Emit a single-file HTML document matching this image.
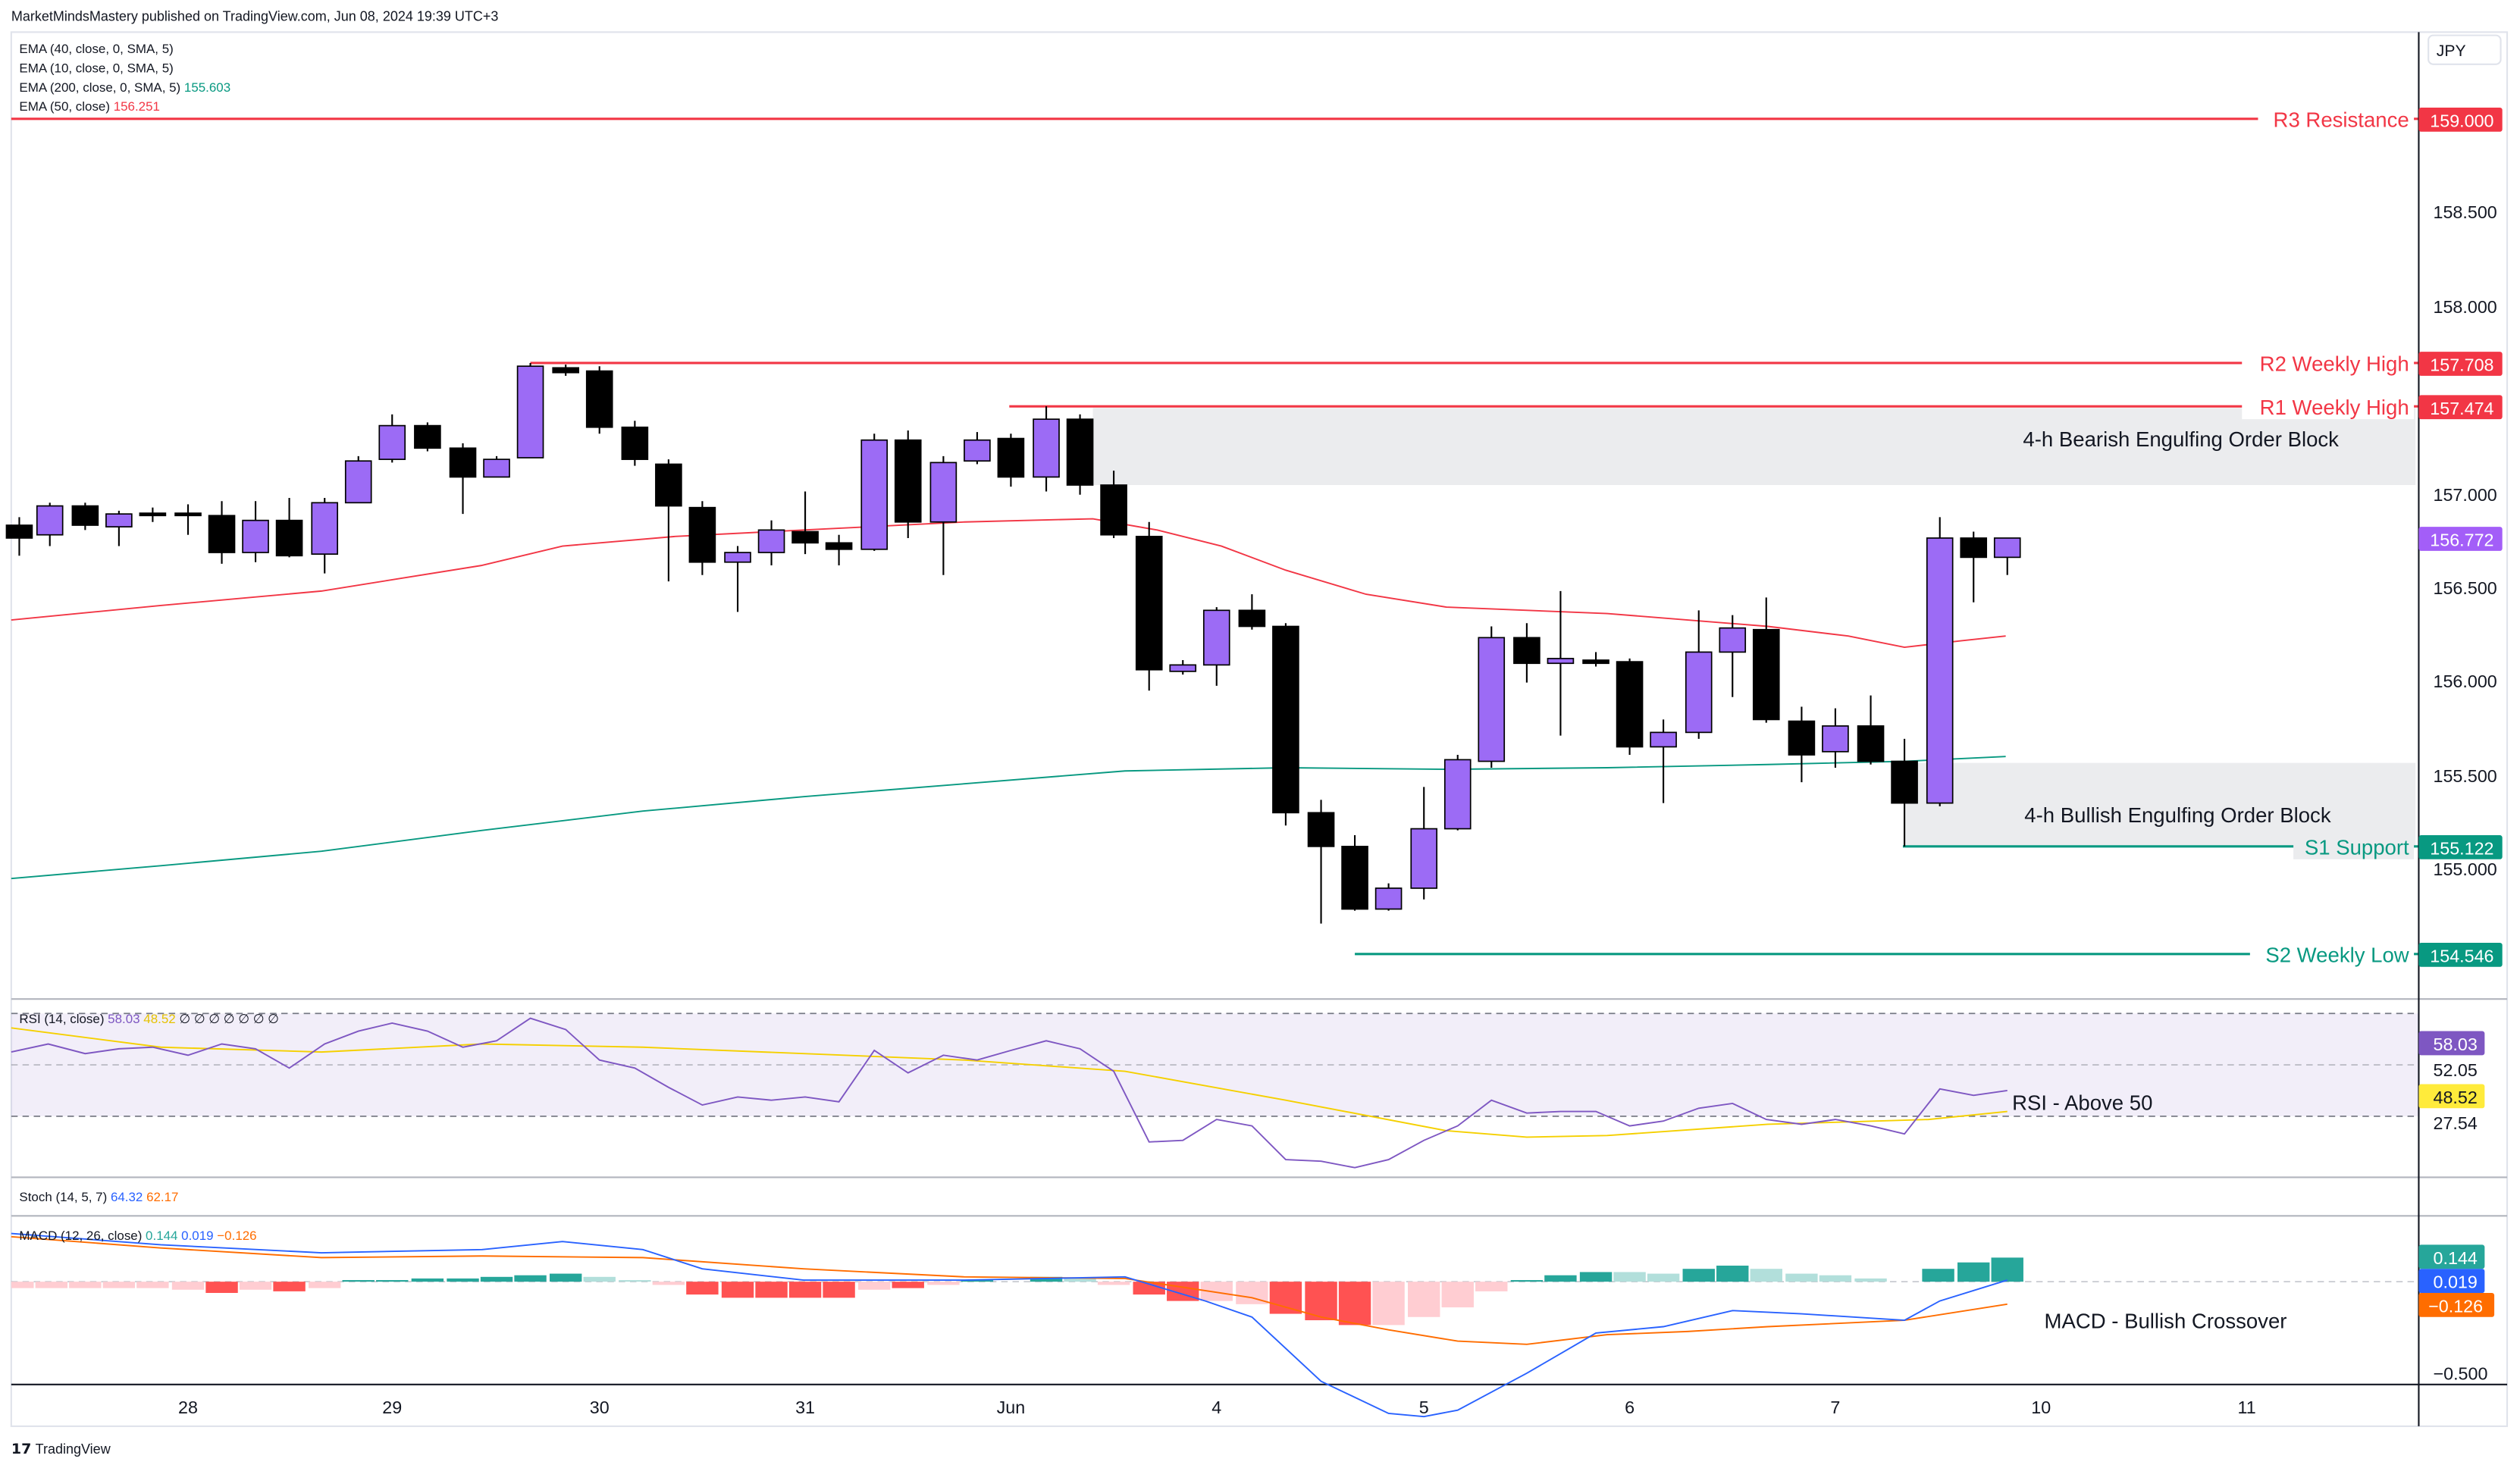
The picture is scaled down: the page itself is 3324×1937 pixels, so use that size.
<!DOCTYPE html>
<html><head><meta charset="utf-8"><style>html,body{margin:0;padding:0;background:#fff}svg{display:block}text{font-family:"Liberation Sans","DejaVu Sans",sans-serif}</style></head><body>
<svg width="3324" height="1937" viewBox="0 0 1568 914" preserveAspectRatio="none" xmlns="http://www.w3.org/2000/svg">
<rect width="1568" height="914" fill="#fff"/>
<text x="7" y="13" font-size="8.5" fill="#131722">MarketMindsMastery published on TradingView.com, Jun 08, 2024 19:39 UTC+3</text>
<rect x="7" y="20" width="1553" height="868" fill="none" stroke="#e0e3eb" stroke-width="1"/>
<!-- zones -->
<rect x="680" y="254" width="823" height="48" fill="#ebecee"/>
<rect x="1185" y="475" width="318" height="52" fill="#ebecee"/>
<!-- EMAs -->
<polyline fill="none" stroke="#f23645" stroke-width="0.9" points="7,386 100,377 200,368 300,352 350,340 420,334 500,330 600,325 680,323 720,330 760,340 800,355 850,370 900,378 1000,382 1100,390 1150,396 1185,403 1220,399 1248,396"/>
<polyline fill="none" stroke="#089981" stroke-width="0.9" points="7,547 100,539 200,530 300,517 400,505 500,496 600,488 700,480 800,478 900,479 1000,478 1100,476 1185,474 1248,471"/>
<!-- levels -->
<line x1="7" y1="74" x2="1505" y2="74" stroke="#f23645" stroke-width="1.5"/>
<line x1="330" y1="226" x2="1505" y2="226" stroke="#f23645" stroke-width="1.5"/>
<line x1="628" y1="253" x2="1505" y2="253" stroke="#f23645" stroke-width="1.5"/>
<line x1="1184" y1="527" x2="1505" y2="527" stroke="#089981" stroke-width="1.5"/>
<line x1="843" y1="594" x2="1505" y2="594" stroke="#089981" stroke-width="1.5"/>
<g font-size="13" text-anchor="end">
<rect x="1405" y="66" width="97" height="16" fill="#fff"/><text x="1499" y="79" fill="#f23645">R3 Resistance</text>
<rect x="1395" y="218" width="107" height="16" fill="#fff"/><text x="1499" y="231" fill="#f23645">R2 Weekly High</text>
<rect x="1395" y="245" width="107" height="16" fill="#fff"/><text x="1499" y="258" fill="#f23645">R1 Weekly High</text>
<rect x="1427" y="519" width="75" height="16" fill="#ebecee"/><text x="1499" y="532" fill="#089981">S1 Support</text>
<rect x="1400" y="586" width="102" height="16" fill="#fff"/><text x="1499" y="599" fill="#089981">S2 Weekly Low</text>
</g>
<g font-size="13" text-anchor="middle" fill="#131722">
<text x="1357" y="278">4-h Bearish Engulfing Order Block</text>
<text x="1355" y="512">4-h Bullish Engulfing Order Block</text>
</g>
<!-- candles -->
<g stroke="#000" stroke-width="1">
<line x1="12" y1="322" x2="12" y2="346"/><line x1="31" y1="313" x2="31" y2="340"/><line x1="53" y1="313" x2="53" y2="330"/><line x1="74" y1="318" x2="74" y2="340"/><line x1="95" y1="316" x2="95" y2="325"/><line x1="117" y1="314" x2="117" y2="333"/><line x1="138" y1="312" x2="138" y2="351"/><line x1="159" y1="312" x2="159" y2="350"/><line x1="180" y1="310" x2="180" y2="347"/><line x1="202" y1="310" x2="202" y2="357"/><line x1="223" y1="284" x2="223" y2="313"/><line x1="244" y1="258" x2="244" y2="288"/><line x1="266" y1="263" x2="266" y2="281"/><line x1="288" y1="276" x2="288" y2="320"/><line x1="309" y1="284" x2="309" y2="297"/><line x1="330" y1="226" x2="330" y2="285"/><line x1="352" y1="227" x2="352" y2="234"/><line x1="373" y1="228" x2="373" y2="270"/><line x1="395" y1="262" x2="395" y2="290"/><line x1="416" y1="286" x2="416" y2="362"/><line x1="437" y1="312" x2="437" y2="358"/><line x1="459" y1="340" x2="459" y2="381"/><line x1="480" y1="324" x2="480" y2="352"/><line x1="501" y1="306" x2="501" y2="345"/><line x1="522" y1="333" x2="522" y2="352"/><line x1="544" y1="270" x2="544" y2="343"/><line x1="565" y1="268" x2="565" y2="335"/><line x1="587" y1="284" x2="587" y2="358"/><line x1="608" y1="269" x2="608" y2="289"/><line x1="629" y1="270" x2="629" y2="303"/><line x1="651" y1="253" x2="651" y2="306"/><line x1="672" y1="258" x2="672" y2="308"/><line x1="693" y1="293" x2="693" y2="335"/><line x1="715" y1="325" x2="715" y2="430"/><line x1="736" y1="411" x2="736" y2="420"/><line x1="757" y1="378" x2="757" y2="427"/><line x1="779" y1="370" x2="779" y2="392"/><line x1="800" y1="388" x2="800" y2="514"/><line x1="822" y1="498" x2="822" y2="575"/><line x1="843" y1="520" x2="843" y2="567"/><line x1="864" y1="550" x2="864" y2="567"/><line x1="886" y1="490" x2="886" y2="560"/><line x1="907" y1="470" x2="907" y2="517"/><line x1="928" y1="390" x2="928" y2="478"/><line x1="950" y1="388" x2="950" y2="425"/><line x1="971" y1="368" x2="971" y2="458"/><line x1="993" y1="406" x2="993" y2="415"/><line x1="1014" y1="410" x2="1014" y2="470"/><line x1="1035" y1="448" x2="1035" y2="500"/><line x1="1057" y1="380" x2="1057" y2="460"/><line x1="1078" y1="383" x2="1078" y2="434"/><line x1="1099" y1="372" x2="1099" y2="450"/><line x1="1121" y1="440" x2="1121" y2="487"/><line x1="1142" y1="441" x2="1142" y2="478"/><line x1="1164" y1="433" x2="1164" y2="476"/><line x1="1185" y1="460" x2="1185" y2="527"/><line x1="1207" y1="322" x2="1207" y2="502"/><line x1="1228" y1="331" x2="1228" y2="375"/><line x1="1249" y1="335" x2="1249" y2="358"/>
</g>
<g stroke="#000" stroke-width="0.8">
<rect x="4" y="327" width="16" height="8" fill="#000"/>
<rect x="23" y="315" width="16" height="18" fill="#9c6bf5"/>
<rect x="45" y="315" width="16" height="12" fill="#000"/>
<rect x="66" y="320" width="16" height="8" fill="#9c6bf5"/>
<rect x="87" y="319.5" width="16" height="1.5" fill="#000"/>
<rect x="109" y="319.5" width="16" height="1.5" fill="#000"/>
<rect x="130" y="321" width="16" height="23" fill="#000"/>
<rect x="151" y="324" width="16" height="20" fill="#9c6bf5"/>
<rect x="172" y="324" width="16" height="22" fill="#000"/>
<rect x="194" y="313" width="16" height="32" fill="#9c6bf5"/>
<rect x="215" y="287" width="16" height="26" fill="#9c6bf5"/>
<rect x="236" y="265" width="16" height="21" fill="#9c6bf5"/>
<rect x="258" y="265" width="16" height="14" fill="#000"/>
<rect x="280" y="279" width="16" height="18" fill="#000"/>
<rect x="301" y="286" width="16" height="11" fill="#9c6bf5"/>
<rect x="322" y="228" width="16" height="57" fill="#9c6bf5"/>
<rect x="344" y="229" width="16" height="3" fill="#000"/>
<rect x="365" y="231" width="16" height="35" fill="#000"/>
<rect x="387" y="266" width="16" height="20" fill="#000"/>
<rect x="408" y="289" width="16" height="26" fill="#000"/>
<rect x="429" y="316" width="16" height="34" fill="#000"/>
<rect x="451" y="344" width="16" height="6" fill="#9c6bf5"/>
<rect x="472" y="330" width="16" height="14" fill="#9c6bf5"/>
<rect x="493" y="331" width="16" height="7" fill="#000"/>
<rect x="514" y="338" width="16" height="4" fill="#000"/>
<rect x="536" y="274" width="16" height="68" fill="#9c6bf5"/>
<rect x="557" y="274" width="16" height="51" fill="#000"/>
<rect x="579" y="288" width="16" height="37" fill="#9c6bf5"/>
<rect x="600" y="274" width="16" height="13" fill="#9c6bf5"/>
<rect x="621" y="273" width="16" height="24" fill="#000"/>
<rect x="643" y="261" width="16" height="36" fill="#9c6bf5"/>
<rect x="664" y="261" width="16" height="41" fill="#000"/>
<rect x="685" y="302" width="16" height="31" fill="#000"/>
<rect x="707" y="334" width="16" height="83" fill="#000"/>
<rect x="728" y="414" width="16" height="4" fill="#9c6bf5"/>
<rect x="749" y="380" width="16" height="34" fill="#9c6bf5"/>
<rect x="771" y="380" width="16" height="10" fill="#000"/>
<rect x="792" y="390" width="16" height="116" fill="#000"/>
<rect x="814" y="506" width="16" height="21" fill="#000"/>
<rect x="835" y="527" width="16" height="39" fill="#000"/>
<rect x="856" y="553" width="16" height="13" fill="#9c6bf5"/>
<rect x="878" y="516" width="16" height="37" fill="#9c6bf5"/>
<rect x="899" y="473" width="16" height="43" fill="#9c6bf5"/>
<rect x="920" y="397" width="16" height="77" fill="#9c6bf5"/>
<rect x="942" y="397" width="16" height="16" fill="#000"/>
<rect x="963" y="410" width="16" height="3" fill="#9c6bf5"/>
<rect x="985" y="411" width="16" height="2" fill="#000"/>
<rect x="1006" y="412" width="16" height="53" fill="#000"/>
<rect x="1027" y="456" width="16" height="9" fill="#9c6bf5"/>
<rect x="1049" y="406" width="16" height="50" fill="#9c6bf5"/>
<rect x="1070" y="391" width="16" height="15" fill="#9c6bf5"/>
<rect x="1091" y="392" width="16" height="56" fill="#000"/>
<rect x="1113" y="449" width="16" height="21" fill="#000"/>
<rect x="1134" y="452" width="16" height="16" fill="#9c6bf5"/>
<rect x="1156" y="452" width="16" height="22" fill="#000"/>
<rect x="1177" y="474" width="16" height="26" fill="#000"/>
<rect x="1199" y="335" width="16" height="165" fill="#9c6bf5"/>
<rect x="1220" y="335" width="16" height="12" fill="#000"/>
<rect x="1241" y="335" width="16" height="12" fill="#9c6bf5"/>
</g>
<!-- legend -->
<g font-size="8" fill="#131722">
<text x="12" y="33">EMA (40, close, 0, SMA, 5)</text>
<text x="12" y="45">EMA (10, close, 0, SMA, 5)</text>
<text x="12" y="57">EMA (200, close, 0, SMA, 5) <tspan fill="#089981">155.603</tspan></text>
<text x="12" y="69">EMA (50, close) <tspan fill="#f23645">156.251</tspan></text>
</g>
<!-- pane separators -->
<line x1="7" y1="622" x2="1560" y2="622" stroke="#b2b5be" stroke-width="1"/>
<line x1="7" y1="733" x2="1560" y2="733" stroke="#b2b5be" stroke-width="1"/>
<line x1="7" y1="757" x2="1560" y2="757" stroke="#b2b5be" stroke-width="1"/>
<line x1="7" y1="862" x2="1560" y2="862" stroke="#131722" stroke-width="1"/>
<!-- RSI -->
<rect x="7" y="631" width="1498" height="64" fill="#7e57c2" fill-opacity="0.1"/>
<g stroke="#787b86" stroke-width="0.8" stroke-dasharray="4,3"><line x1="7" y1="631" x2="1505" y2="631"/><line x1="7" y1="663" x2="1505" y2="663" stroke-opacity="0.5"/><line x1="7" y1="695" x2="1505" y2="695"/></g>
<polyline fill="none" stroke="#f5d000" stroke-width="0.9" points="7,640 100,652 200,655 300,650 400,652 500,656 600,660 700,667 800,685 900,704 950,708 1000,707 1100,700 1200,697 1249,692"/>
<polyline fill="none" stroke="#7e57c2" stroke-width="0.9" points="7,655 30,650 53,656 74,653 95,652 117,657 138,650 159,653 180,665 202,650 223,642 244,637 266,642 288,652 309,648 330,634 352,641 373,660 395,665 416,677 437,688 459,683 480,685 501,683 522,686 544,654 565,668 587,657 608,660 629,654 651,648 672,653 693,667 715,711 736,710 757,697 779,701 800,722 822,723 843,727 864,722 886,710 907,701 928,685 950,693 971,692 993,692 1014,701 1035,698 1057,690 1078,687 1099,697 1121,700 1142,697 1164,701 1185,706 1207,678 1228,682 1249,679"/>
<text x="12" y="637" font-size="8" fill="#131722">RSI (14, close) <tspan fill="#7e57c2">58.03</tspan> <tspan fill="#e6c200">48.52</tspan> ∅ ∅ ∅ ∅ ∅ ∅ ∅</text>
<text x="1252" y="691" font-size="13" fill="#131722">RSI - Above 50</text>
<text x="12" y="748" font-size="8" fill="#131722">Stoch (14, 5, 7) <tspan fill="#2962ff">64.32</tspan> <tspan fill="#ff6d00">62.17</tspan></text>
<!-- MACD -->
<line x1="7" y1="798" x2="1505" y2="798" stroke="#b2b5be" stroke-width="0.6" stroke-dasharray="4,3"/>
<g>
<rect x="7" y="798" width="14" height="4" fill="#ffcdd2"/><rect x="22" y="798" width="20" height="4" fill="#ffcdd2"/><rect x="43" y="798" width="20" height="4" fill="#ffcdd2"/><rect x="64" y="798" width="20" height="4" fill="#ffcdd2"/><rect x="85" y="798" width="20" height="4" fill="#ffcdd2"/><rect x="107" y="798" width="20" height="5" fill="#ffcdd2"/><rect x="128" y="798" width="20" height="7" fill="#ff5252"/><rect x="149" y="798" width="20" height="5" fill="#ffcdd2"/><rect x="170" y="798" width="20" height="6" fill="#ff5252"/><rect x="192" y="798" width="20" height="4" fill="#ffcdd2"/><rect x="213" y="797" width="20" height="1" fill="#26a69a"/><rect x="234" y="797" width="20" height="1" fill="#26a69a"/><rect x="256" y="796" width="20" height="2" fill="#26a69a"/><rect x="278" y="796" width="20" height="2" fill="#26a69a"/><rect x="299" y="795" width="20" height="3" fill="#26a69a"/><rect x="320" y="794" width="20" height="4" fill="#26a69a"/><rect x="342" y="793" width="20" height="5" fill="#26a69a"/><rect x="363" y="795" width="20" height="3" fill="#b2dfdb"/><rect x="385" y="797" width="20" height="1" fill="#b2dfdb"/><rect x="406" y="798" width="20" height="2" fill="#ffcdd2"/><rect x="427" y="798" width="20" height="8" fill="#ff5252"/><rect x="449" y="798" width="20" height="10" fill="#ff5252"/><rect x="470" y="798" width="20" height="10" fill="#ff5252"/><rect x="491" y="798" width="20" height="10" fill="#ff5252"/><rect x="512" y="798" width="20" height="10" fill="#ff5252"/><rect x="534" y="798" width="20" height="5" fill="#ffcdd2"/><rect x="555" y="798" width="20" height="4" fill="#ff5252"/><rect x="577" y="798" width="20" height="2" fill="#ffcdd2"/><rect x="598" y="797" width="20" height="1" fill="#26a69a"/><rect x="641" y="795" width="20" height="3" fill="#26a69a"/><rect x="662" y="796" width="20" height="2" fill="#b2dfdb"/><rect x="683" y="798" width="20" height="2" fill="#ffcdd2"/><rect x="705" y="798" width="20" height="8" fill="#ff5252"/><rect x="726" y="798" width="20" height="12" fill="#ff5252"/><rect x="747" y="798" width="20" height="12" fill="#ffcdd2"/><rect x="769" y="798" width="20" height="14" fill="#ffcdd2"/><rect x="790" y="798" width="20" height="20" fill="#ff5252"/><rect x="812" y="798" width="20" height="24" fill="#ff5252"/><rect x="833" y="798" width="20" height="27" fill="#ff5252"/><rect x="854" y="798" width="20" height="27" fill="#ffcdd2"/><rect x="876" y="798" width="20" height="22" fill="#ffcdd2"/><rect x="897" y="798" width="20" height="16" fill="#ffcdd2"/><rect x="918" y="798" width="20" height="6" fill="#ffcdd2"/><rect x="940" y="797" width="20" height="1" fill="#26a69a"/><rect x="961" y="794" width="20" height="4" fill="#26a69a"/><rect x="983" y="792" width="20" height="6" fill="#26a69a"/><rect x="1004" y="792" width="20" height="6" fill="#b2dfdb"/><rect x="1025" y="793" width="20" height="5" fill="#b2dfdb"/><rect x="1047" y="790" width="20" height="8" fill="#26a69a"/><rect x="1068" y="788" width="20" height="10" fill="#26a69a"/><rect x="1089" y="790" width="20" height="8" fill="#b2dfdb"/><rect x="1111" y="793" width="20" height="5" fill="#b2dfdb"/><rect x="1132" y="794" width="20" height="4" fill="#b2dfdb"/><rect x="1154" y="796" width="20" height="2" fill="#b2dfdb"/><rect x="1196" y="790" width="20" height="8" fill="#26a69a"/><rect x="1218" y="786" width="20" height="12" fill="#26a69a"/><rect x="1239" y="783" width="20" height="15" fill="#26a69a"/>
</g>
<polyline fill="none" stroke="#ff6d00" stroke-width="0.9" points="7,770 100,777 200,783 300,782 400,783 500,790 600,795 700,796 779,808 822,820 864,828 907,835 950,837 1000,831 1050,829 1100,826 1185,822 1249,812"/>
<polyline fill="none" stroke="#2962ff" stroke-width="0.9" points="7,768 100,775 200,780 300,778 350,773 400,778 437,790 500,797 600,797 700,795 750,810 779,820 822,860 864,880 886,882 907,878 950,855 993,830 1035,826 1078,816 1121,818 1185,822 1207,810 1249,797"/>
<text x="12" y="772" font-size="8" fill="#131722">MACD (12, 26, close) <tspan fill="#26a69a">0.144</tspan> <tspan fill="#2962ff">0.019</tspan> <tspan fill="#ff6d00">−0.126</tspan></text>
<text x="1272" y="827" font-size="13" fill="#131722">MACD - Bullish Crossover</text>
<!-- right axis -->
<line x1="1505" y1="20" x2="1505" y2="888" stroke="#131722" stroke-width="1"/>
<rect x="1511" y="22" width="45" height="18" rx="3" fill="#fff" stroke="#e0e3eb"/>
<text x="1516" y="35" font-size="10" fill="#131722">JPY</text>
<g font-size="11" fill="#131722">
<text x="1514" y="136">158.500</text><text x="1514" y="195">158.000</text><text x="1514" y="312">157.000</text><text x="1514" y="370">156.500</text><text x="1514" y="428">156.000</text><text x="1514" y="487">155.500</text><text x="1514" y="545">155.000</text>
<text x="1514" y="670">52.05</text><text x="1514" y="703">27.54</text><text x="1514" y="859">−0.500</text>
</g>
<g font-size="11" fill="#fff">
<rect x="1505" y="67" width="52" height="15" rx="1.5" fill="#f23645"/><text x="1512" y="79">159.000</text>
<rect x="1505" y="219" width="52" height="15" rx="1.5" fill="#f23645"/><text x="1512" y="231">157.708</text>
<rect x="1505" y="246" width="52" height="15" rx="1.5" fill="#f23645"/><text x="1512" y="258">157.474</text>
<rect x="1505" y="328" width="52" height="15" rx="1.5" fill="#a35ef8"/><text x="1512" y="340">156.772</text>
<rect x="1505" y="520" width="52" height="15" rx="1.5" fill="#089981"/><text x="1512" y="532">155.122</text>
<rect x="1505" y="587" width="52" height="15" rx="1.5" fill="#089981"/><text x="1512" y="599">154.546</text>
<rect x="1505" y="642" width="41" height="15" rx="1.5" fill="#7e57c2"/><text x="1514" y="654">58.03</text>
<rect x="1505" y="675" width="41" height="15" rx="1.5" fill="#ffeb3b"/><text x="1514" y="687" fill="#131722">48.52</text>
<rect x="1505" y="775" width="41" height="15" rx="1.5" fill="#26a69a"/><text x="1514" y="787">0.144</text>
<rect x="1505" y="790" width="41" height="15" rx="1.5" fill="#2962ff"/><text x="1514" y="802">0.019</text>
<rect x="1505" y="805" width="47" height="15" rx="1.5" fill="#ff6d00"/><text x="1511" y="817">−0.126</text>
</g>
<!-- time axis -->
<g font-size="11" fill="#131722" text-anchor="middle">
<text x="117" y="880">28</text><text x="244" y="880">29</text><text x="373" y="880">30</text><text x="501" y="880">31</text><text x="629" y="880">Jun</text><text x="757" y="880">4</text><text x="886" y="880">5</text><text x="1014" y="880">6</text><text x="1142" y="880">7</text><text x="1270" y="880">10</text><text x="1398" y="880">11</text>
</g>
<text x="7" y="905" font-size="9" fill="#131722" font-weight="bold">𝟭𝟳</text>
<text x="22" y="905" font-size="8.5" fill="#131722">TradingView</text>
</svg>
</body></html>
